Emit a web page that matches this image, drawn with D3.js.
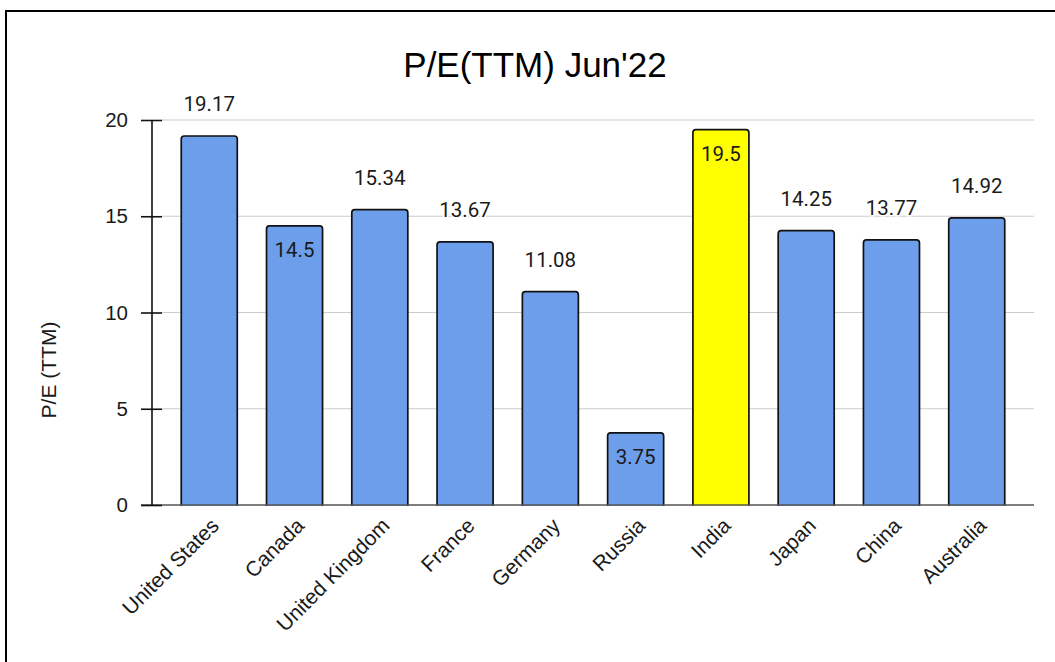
<!DOCTYPE html>
<html>
<head>
<meta charset="utf-8">
<script src="https://cdn.jsdelivr.net/npm/d3@7"></script>
<style>
  html, body { margin: 0; padding: 0; background: #fff; }
  svg { display: block; }
</style>
</head>
<body>
<svg id="chart" width="1055" height="662"></svg>
<script>
// P/E (trailing twelve months) by country, June 2022
const countries = ["United States", "Canada", "United Kingdom", "France", "Germany",
                   "Russia", "India", "Japan", "China", "Australia"];
const peValues = [19.17, 14.5, 15.34, 13.67, 11.08, 3.75, 19.5, 14.25, 13.77, 14.92];
const highlighted = ["India"];
const labelsInside = ["Canada", "Russia", "India"];
const yTicks = [0, 5, 10, 15, 20];

const W = 1055, H = 662;
const plotLeft = 152, plotRight = 1034, plotTop = 120, plotBottom = 505;

const svg = d3.select("#chart");

// frame around the chart
svg.append("rect")
  .attr("x", 6).attr("y", 11)
  .attr("width", W + 20).attr("height", H + 20)
  .attr("fill", "#fff").attr("stroke", "#000").attr("stroke-width", 2);

const x = d3.scaleBand().domain(countries).range([plotLeft, plotRight]).padding(0.343);
const y = d3.scaleLinear().domain([0, 20]).range([plotBottom, plotTop]);

// title
svg.append("text")
  .attr("x", 535).attr("y", 77)
  .attr("text-anchor", "middle")
  .attr("font-family", "Liberation Sans, Arial, sans-serif")
  .attr("font-size", 35).attr("fill", "#000")
  .text("P/E(TTM) Jun'22");

// horizontal gridlines
svg.append("g").selectAll("line")
  .data(yTicks.filter(d => d !== 0))
  .join("line")
  .attr("x1", plotLeft + 10).attr("x2", plotRight)
  .attr("y1", d => y(d)).attr("y2", d => y(d))
  .attr("stroke", "#cccccc").attr("stroke-width", 1.2);

// bars
svg.append("g").selectAll("rect")
  .data(countries)
  .join("rect")
  .attr("x", d => x(d))
  .attr("y", (d, i) => y(peValues[i]))
  .attr("width", x.bandwidth())
  .attr("height", (d, i) => y(0) - y(peValues[i]) + 4)
  .attr("rx", 3).attr("ry", 3)
  .attr("fill", d => highlighted.includes(d) ? "#ffff00" : "#6d9eeb")
  .attr("stroke", "#111").attr("stroke-width", 1.7);

// white strip below the baseline hides the bars' lower edges
svg.append("rect")
  .attr("x", plotLeft).attr("y", y(0) + 1)
  .attr("width", plotRight - plotLeft + 2).attr("height", 6)
  .attr("fill", "#fff");

// baseline
svg.append("line")
  .attr("x1", plotLeft - 11).attr("x2", plotRight)
  .attr("y1", y(0)).attr("y2", y(0))
  .attr("stroke", "#555").attr("stroke-width", 1.6);

// y axis
const yAxis = svg.append("g")
  .attr("transform", `translate(${plotLeft},0)`)
  .call(d3.axisLeft(y).tickValues(yTicks).tickSize(11).tickPadding(13).tickSizeOuter(0));
yAxis.select(".domain").attr("stroke", "#111").attr("stroke-width", 1.6)
  .attr("d", `M0,${plotTop}V${plotBottom}`);
yAxis.selectAll(".tick line").attr("x1", -11).attr("x2", 10)
  .attr("stroke", "#111").attr("stroke-width", 1.6);
yAxis.selectAll(".tick text")
  .attr("font-family", "Liberation Sans, Arial, sans-serif")
  .attr("font-size", 20.5).attr("fill", "#1a1a1a");

// x axis labels
const xAxis = svg.append("g")
  .attr("transform", `translate(0,${plotBottom})`)
  .call(d3.axisBottom(x).tickSize(0).tickSizeOuter(0));
xAxis.select(".domain").remove();
xAxis.selectAll(".tick text")
  .attr("x", 0).attr("y", 0).attr("dy", 0)
  .attr("transform", "translate(11,22) rotate(-45)")
  .attr("text-anchor", "end")
  .attr("font-family", "Liberation Sans, Arial, sans-serif")
  .attr("font-size", 21).attr("fill", "#1a1a1a");

// y axis title
svg.append("text")
  .attr("transform", "translate(56,370) rotate(-90)")
  .attr("text-anchor", "middle")
  .attr("font-family", "Liberation Sans, Arial, sans-serif")
  .attr("font-size", 21).attr("fill", "#1a1a1a")
  .text("P/E (TTM)");

// value labels
svg.append("g").selectAll("text")
  .data(countries)
  .join("text")
  .attr("x", d => x(d) + x.bandwidth() / 2)
  .attr("y", (d, i) => labelsInside.includes(d) ? y(peValues[i]) + 31 : y(peValues[i]) - 25)
  .attr("text-anchor", "middle")
  .attr("font-family", "Roboto, sans-serif")
  .attr("font-size", 20.5).attr("fill", "#1a1a1a")
  .attr("stroke", d => labelsInside.includes(d) ? "none" : "#fff")
  .attr("stroke-width", 3).attr("paint-order", "stroke")
  .text((d, i) => peValues[i]);
</script>
</body>
</html>
